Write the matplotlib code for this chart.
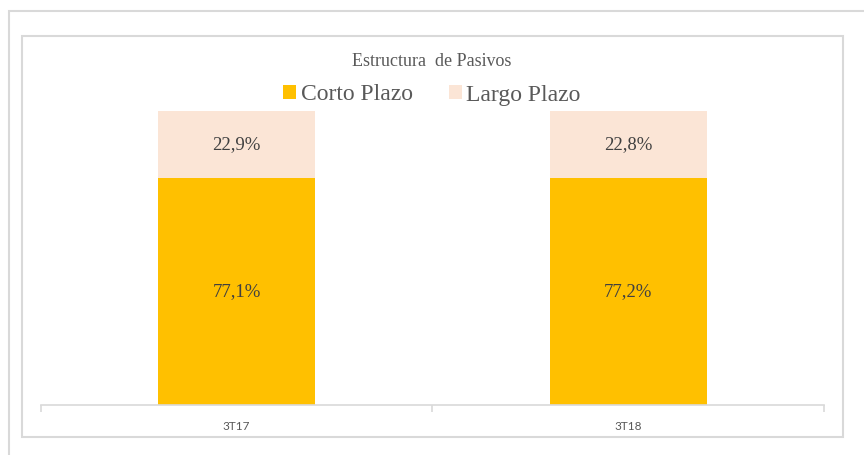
import matplotlib.pyplot as plt
from matplotlib.patches import Rectangle

periods = ["3T17", "3T18"]
corto_plazo = [0.771, 0.772]
largo_plazo = [0.229, 0.228]
series_names = ["Corto Plazo", "Largo Plazo"]
colors = ["#FFC000", "#FBE5D6"]

W, H = 864, 455
fig = plt.figure(figsize=(W / 100, H / 100), dpi=100)

# chart frames (outer window edge and chart area border)
border = "#D9D9D9"
fig.patches.append(Rectangle((8.5 / W, -0.1), 1.2, (H - 10.5) / H + 0.1,
                             transform=fig.transFigure, fill=False,
                             edgecolor=border, linewidth=1.5))
fig.patches.append(Rectangle((21.5 / W, (H - 437) / H), (843 - 21.5) / W, (437 - 36) / H,
                             transform=fig.transFigure, fill=False,
                             edgecolor=border, linewidth=1.5))

ax = fig.add_axes([40.7 / W, (H - 404.5) / H, 783.3 / W, (404.5 - 111) / H])
x = list(range(len(periods)))
ax.bar(x, corto_plazo, width=0.4, color=colors[0], label=series_names[0])
ax.bar(x, largo_plazo, width=0.4, bottom=corto_plazo, color=colors[1], label=series_names[1])

serif = "Liberation Serif"
for i in x:
    ax.text(i, corto_plazo[i] / 2, f"{corto_plazo[i] * 100:.1f}%".replace(".", ","),
            ha="center", va="center", fontsize=13.5, family=serif, color="#404040")
    ax.text(i, corto_plazo[i] + largo_plazo[i] / 2,
            f"{largo_plazo[i] * 100:.1f}%".replace(".", ","),
            ha="center", va="center", fontsize=13.5, family=serif, color="#404040")

ax.set_xlim(-0.5, 1.5)
ax.set_ylim(0, 1)
ax.set_yticks([])
for side in ["left", "right", "top"]:
    ax.spines[side].set_visible(False)
ax.spines["bottom"].set_color(border)
ax.spines["bottom"].set_linewidth(1.2)
ax.set_xticks(x)
ax.set_xticklabels(periods, family="Lato", fontsize=8.5, color="#595959")
ax.tick_params(axis="x", which="major", length=0, pad=12)
ax.set_xticks([-0.5, 0.5, 1.5], minor=True)
ax.tick_params(axis="x", which="minor", length=5, color=border, width=1.2)

fig.text(431.7 / W, 1 - 61.7 / H, "Estructura  de Pasivos", ha="center", va="center",
         family=serif, fontsize=13, color="#595959")
fig.legend(loc="center", bbox_to_anchor=(432 / W, 1 - 95 / H), ncol=2, frameon=False,
           prop={"family": serif, "size": 17}, handlelength=0.55, handleheight=0.55,
           handletextpad=0.2, columnspacing=1.5, labelcolor="#595959")

fig.savefig("out.png", dpi=100, facecolor="white")
